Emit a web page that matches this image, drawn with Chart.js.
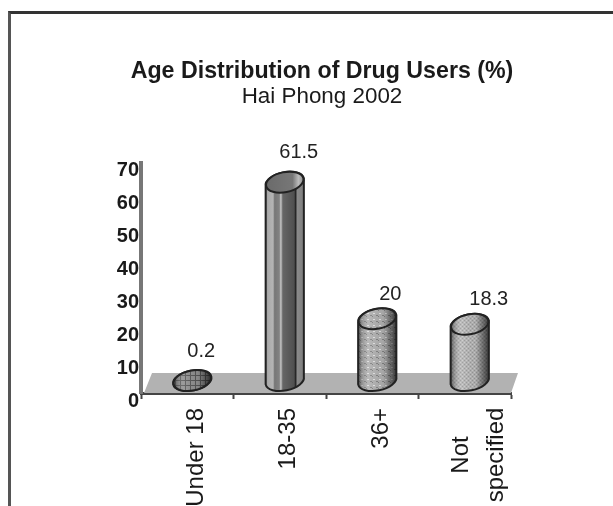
<!DOCTYPE html>
<html>
<head>
<meta charset="utf-8">
<title>Age Distribution of Drug Users</title>
<script src="https://cdn.jsdelivr.net/npm/chart.js@4"></script>
<style>
  html, body { margin: 0; padding: 0; background: #fff; overflow: hidden; }
  #wrap { position: relative; width: 613px; height: 506px; }
  #frame { position: absolute; left: 8px; top: 11px; right: -4px; bottom: -4px;
           border-top: 3px solid #333; border-left: 3px solid #555; }
  canvas { position: absolute; left: 0; top: 0; }
</style>
</head>
<body>
<div id="wrap">
  <div id="frame"></div>
  <canvas id="barChart" width="613" height="506"></canvas>
</div>
<script>
  const categories = ['Under 18', '18-35', '36+', ['Not', 'specified']];
  const percentages = [0.2, 61.5, 20, 18.3];
  const valueLabels = ['0.2', '61.5', '20', '18.3'];
  const yTicks = [0, 10, 20, 30, 40, 50, 60, 70];

  const FONT = '"Liberation Sans", Arial, sans-serif';

  // Small repeating swatch used as a cylinder texture
  function swatch(size, paint) {
    const c = document.createElement('canvas');
    c.width = c.height = size;
    paint(c.getContext('2d'));
    return c;
  }

  const hatch = swatch(5, g => {
    g.fillStyle = '#8e8e8e'; g.fillRect(0, 0, 5, 5);
    g.fillStyle = '#555'; g.fillRect(0, 0, 5, 1); g.fillRect(0, 0, 1, 5);
  });
  const dots = swatch(6, g => {
    g.fillStyle = '#b0b0b0'; g.fillRect(0, 0, 6, 6);
    g.fillStyle = '#e0e0e0'; g.fillRect(1, 1, 2, 1);
    g.fillStyle = '#808080'; g.fillRect(4, 3, 2, 1); g.fillRect(0, 4, 1, 1);
  });
  const speckle = swatch(4, g => {
    g.fillStyle = '#b4b4b4'; g.fillRect(0, 0, 4, 4);
    g.fillStyle = '#989898'; g.fillRect(0, 0, 1, 1); g.fillRect(2, 2, 1, 1);
    g.fillStyle = '#cccccc'; g.fillRect(2, 0, 1, 1); g.fillRect(0, 2, 1, 1);
  });
  const textures = [hatch, null, dots, speckle];

  // Vertical stripes of the 18-35 column, as [stop, colour]
  const stripeStops = [
    [0, '#555'], [0.06, '#aaa'], [0.2, '#b4b4b4'], [0.24, '#777'], [0.36, '#828282'],
    [0.4, '#c8c8c8'], [0.45, '#666'], [0.74, '#505050'], [0.78, '#222'], [0.82, '#8a8a8a'],
    [0.96, '#808080'], [1, '#333']
  ];

  function paintSurface(ctx, index, left, right) {
    if (index === 1) {
      const g = ctx.createLinearGradient(left, 0, right, 0);
      stripeStops.forEach(s => g.addColorStop(s[0], s[1]));
      ctx.fillStyle = g;
      ctx.fill();
      return;
    }
    ctx.fillStyle = ctx.createPattern(textures[index], 'repeat');
    ctx.fill();
    const shade = ctx.createLinearGradient(left, 0, right, 0);
    shade.addColorStop(0, 'rgba(0,0,0,0.55)');
    shade.addColorStop(0.3, 'rgba(255,255,255,0.1)');
    shade.addColorStop(0.65, 'rgba(0,0,0,0.05)');
    shade.addColorStop(1, 'rgba(0,0,0,0.7)');
    ctx.fillStyle = shade;
    ctx.fill();
  }

  // Grey floor the columns stand on
  const floorPlugin = {
    id: 'floor',
    beforeDatasetsDraw(chart) {
      const { ctx, chartArea: a } = chart;
      ctx.save();
      ctx.fillStyle = '#b2b2b2';
      ctx.beginPath();
      ctx.moveTo(a.left + 3, a.bottom);
      ctx.lineTo(a.left + 11, a.bottom - 20);
      ctx.lineTo(a.right + 7, a.bottom - 20);
      ctx.lineTo(a.right, a.bottom);
      ctx.closePath();
      ctx.fill();
      ctx.restore();
    }
  };

  // Turns each bar element into a slanted cylinder and writes its value above it
  const cylinderPlugin = {
    id: 'cylinder',
    afterDatasetsDraw(chart) {
      const ctx = chart.ctx;
      const rx = 19.5, ry = 10, rot = -0.2, drop = 10.5;
      const labelShift = [[14, 43], [19, 40], [18, 35], [24, 35]];
      chart.getDatasetMeta(0).data.forEach((el, i) => {
        const cx = el.x + 5;
        const baseY = el.base - 2 - drop;
        const topY = Math.min(el.y - drop + 2, baseY);
        ctx.save();
        ctx.strokeStyle = '#222';
        ctx.lineWidth = 2;

        // body
        ctx.beginPath();
        ctx.ellipse(cx, baseY, rx, ry, rot, 0, Math.PI);
        ctx.ellipse(cx, topY, rx, ry, rot, Math.PI, 0);
        ctx.closePath();
        paintSurface(ctx, i, cx - rx, cx + rx);
        ctx.stroke();

        // lid
        ctx.beginPath();
        ctx.ellipse(cx, topY, rx - 0.5, ry, rot, 0, Math.PI * 2);
        if (i === 1) {
          const lid = ctx.createLinearGradient(cx - rx, 0, cx + rx, 0);
          lid.addColorStop(0, '#6a6a6a');
          lid.addColorStop(0.7, '#777');
          lid.addColorStop(0.85, '#bbb');
          lid.addColorStop(1, '#888');
          ctx.fillStyle = lid;
          ctx.fill();
        } else {
          paintSurface(ctx, i, cx - rx, cx + rx);
        }
        ctx.stroke();

        // value label
        ctx.fillStyle = '#222';
        ctx.font = '20px ' + FONT;
        ctx.textAlign = 'center';
        ctx.textBaseline = 'middle';
        ctx.fillText(valueLabels[i], el.x + labelShift[i][0], el.y - labelShift[i][1] + 2);
        ctx.restore();
      });
    }
  };

  // Category names run bottom to top; the two-line one is centred on itself
  const categoryLabelPlugin = {
    id: 'categoryLabels',
    afterDraw(chart) {
      const ctx = chart.ctx;
      const scale = chart.scales.x;
      ctx.save();
      ctx.fillStyle = '#1a1a1a';
      ctx.font = '24px ' + FONT;
      ctx.textBaseline = 'middle';
      categories.forEach((name, i) => {
        const x = scale.getPixelForTick(i);
        const lines = Array.isArray(name) ? name : [name];
        lines.forEach((line, k) => {
          ctx.save();
          if (lines.length > 1) {
            ctx.translate(x - 3 + k * 35, scale.top + 62);
            ctx.textAlign = 'center';
          } else {
            ctx.translate(x + 9, scale.top + 15);
            ctx.textAlign = 'right';
          }
          ctx.rotate(-Math.PI / 2);
          ctx.fillText(line, 0, 0);
          ctx.restore();
        });
      });
      ctx.restore();
    }
  };

  new Chart(document.querySelector('#barChart'), {
    type: 'bar',
    data: {
      labels: categories,
      datasets: [{
        label: 'Age Distribution of Drug Users (%)',
        data: percentages,
        backgroundColor: 'rgba(0,0,0,0)',
        borderWidth: 0
      }]
    },
    plugins: [floorPlugin, cylinderPlugin, categoryLabelPlugin],
    options: {
      responsive: false,
      animation: false,
      layout: { padding: { left: 111, right: 80, top: 0, bottom: 0 } },
      plugins: {
        legend: { display: false },
        tooltip: { enabled: false },
        title: {
          display: true,
          text: 'Age Distribution of Drug Users (%)',
          color: '#1a1a1a',
          font: { family: FONT, size: 23.2, weight: 'bold', lineHeight: 1.2 },
          padding: { top: 58, bottom: -2 }
        },
        subtitle: {
          display: true,
          text: 'Hai Phong 2002',
          color: '#1a1a1a',
          font: { family: FONT, size: 22.4, weight: 'normal', lineHeight: 1.2 },
          padding: { top: 0, bottom: 52 }
        }
      },
      scales: {
        x: {
          afterFit(scale) { scale.height = 113; },
          border: { color: '#444', width: 3 },
          grid: { drawOnChartArea: false, color: '#444', tickLength: 6, tickWidth: 2 },
          ticks: { display: false }
        },
        y: {
          min: 0,
          max: 70,
          afterFit(scale) { scale.width = 30; },
          border: { color: '#777', width: 4 },
          grid: { display: false, drawTicks: false },
          afterBuildTicks(scale) { scale.ticks = yTicks.map(v => ({ value: v })); },
          ticks: {
            color: '#1a1a1a',
            font: { family: FONT, size: 20, weight: 'bold' },
            labelOffset: 8,
            padding: 2
          }
        },
        // empty right-hand axis, only holds the plot clear of the right side
        spacer: {
          position: 'right',
          afterFit(scale) { scale.width = 22; },
          border: { display: false },
          grid: { display: false },
          ticks: { display: false }
        }
      }
    }
  });
</script>
</body>
</html>
